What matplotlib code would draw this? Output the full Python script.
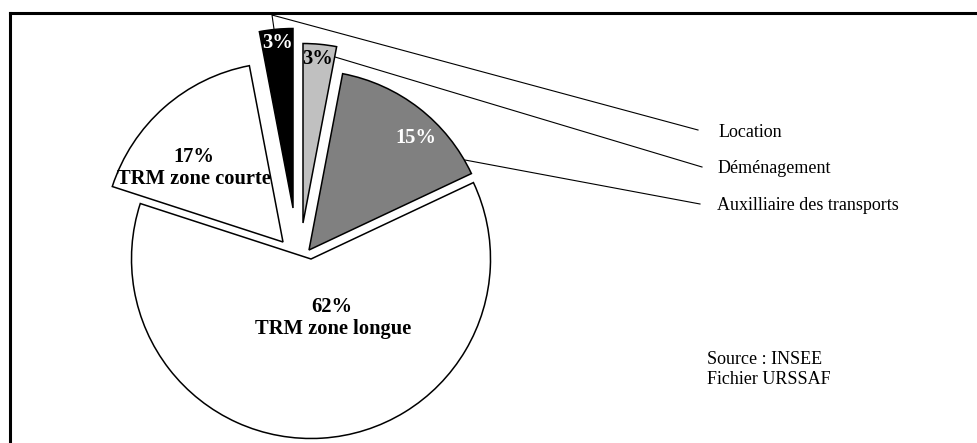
import matplotlib
matplotlib.use("Agg")
import matplotlib.pyplot as plt
from matplotlib.lines import Line2D

# ---- data (clockwise from 12 o'clock) ----
categories = ["Déménagement", "Auxilliaire des transports", "TRM zone longue",
              "TRM zone courte", "Location"]
values = [3, 15, 62, 17, 3]
colors = ["#c0c0c0", "#808080", "#ffffff", "#ffffff", "#000000"]
# exploded-slice offsets in pixels (dx right, dy down) - style only
slice_offsets_px = [(-8, -36), (-2, -9), (0, 0), (-28, -17), (-18, -51)]
source_lines = ["Source : INSEE", "Fichier URSSAF"]

W, H = 978, 443
CX, CY = 311.0, 259.0      # pie centre in pixels (y downward)
R = 179.5                  # radius in pixels

plt.rcParams['font.family'] = ['Liberation Serif', 'DejaVu Serif']

fig = plt.figure(figsize=(W / 100, H / 100), dpi=100)
ax = fig.add_axes([0, 0, 1, 1])

def P(px, py):
    """pixel (y down) -> data coords (radius = 1)."""
    return (px - CX) / R, (CY - py) / R

wedges, _ = ax.pie(values, colors=colors, startangle=90,
                   counterclock=False, radius=1,
                   wedgeprops=dict(edgecolor="black", linewidth=1.1))
for w, (dx, dy) in zip(wedges, slice_offsets_px):
    cx, cy = w.center
    w.set_center((cx + dx / R, cy - dy / R))

ax.set_aspect("auto")
x0, y0 = P(0, H)
x1, y1 = P(W, 0)
ax.set_xlim(x0, x1)
ax.set_ylim(y0, y1)
ax.axis("off")

# ---- frame (top and left edges visible) ----
lw_frame = 2.2
fig.add_artist(Line2D([10 / W, 1.0], [1 - 13 / H, 1 - 13 / H],
                      transform=fig.transFigure, color="black", lw=lw_frame))
fig.add_artist(Line2D([10 / W, 10 / W], [0, 1 - 13 / H],
                      transform=fig.transFigure, color="black", lw=lw_frame))

# ---- leader lines ----
leaders = {
    "Location": [(274, 29), (272, 15), (698, 130)],
    "Déménagement": [(335, 57), (702, 167)],
    "Auxilliaire des transports": [(465, 160), (700, 204)],
}
for name, pts in leaders.items():
    xs, ys = zip(*[P(*p) for p in pts])
    ax.plot(xs, ys, color="black", lw=0.8, zorder=3)

label_pos = {
    "Location": (719, 136.7),
    "Déménagement": (717.5, 173.3),
    "Auxilliaire des transports": (717, 210.3),
}
for name, (px, py) in label_pos.items():
    ax.text(*P(px, py), name, fontsize=13, ha="left", va="baseline",
            color="black", zorder=4)

# ---- percentage labels ----
v = dict(zip(categories, values))
bold = dict(fontsize=14.8, fontweight="bold", ha="center", va="baseline", zorder=5)
ax.text(*P(331.7, 311.7), f"{v['TRM zone longue']}%", color="black", **bold)
ax.text(*P(333.3, 334), "TRM zone longue", color="black", **bold)
ax.text(*P(194, 162), f"{v['TRM zone courte']}%", color="black", **bold)
ax.text(*P(194, 184.5), "TRM zone courte", color="black", **bold)
ax.text(*P(416, 143.3), f"{v['Auxilliaire des transports']}%", color="white", **bold)
ax.text(*P(278, 47.7), f"{v['Location']}%", color="white", **bold)
ax.text(*P(318, 64), f"{v['Déménagement']}%", color="black", **bold)

# ---- source ----
ax.text(*P(706.7, 364.3), source_lines[0], fontsize=13, ha="left", va="baseline")
ax.text(*P(706.7, 384.3), source_lines[1], fontsize=13, ha="left", va="baseline")

fig.savefig("out.png", dpi=100, facecolor="white")
